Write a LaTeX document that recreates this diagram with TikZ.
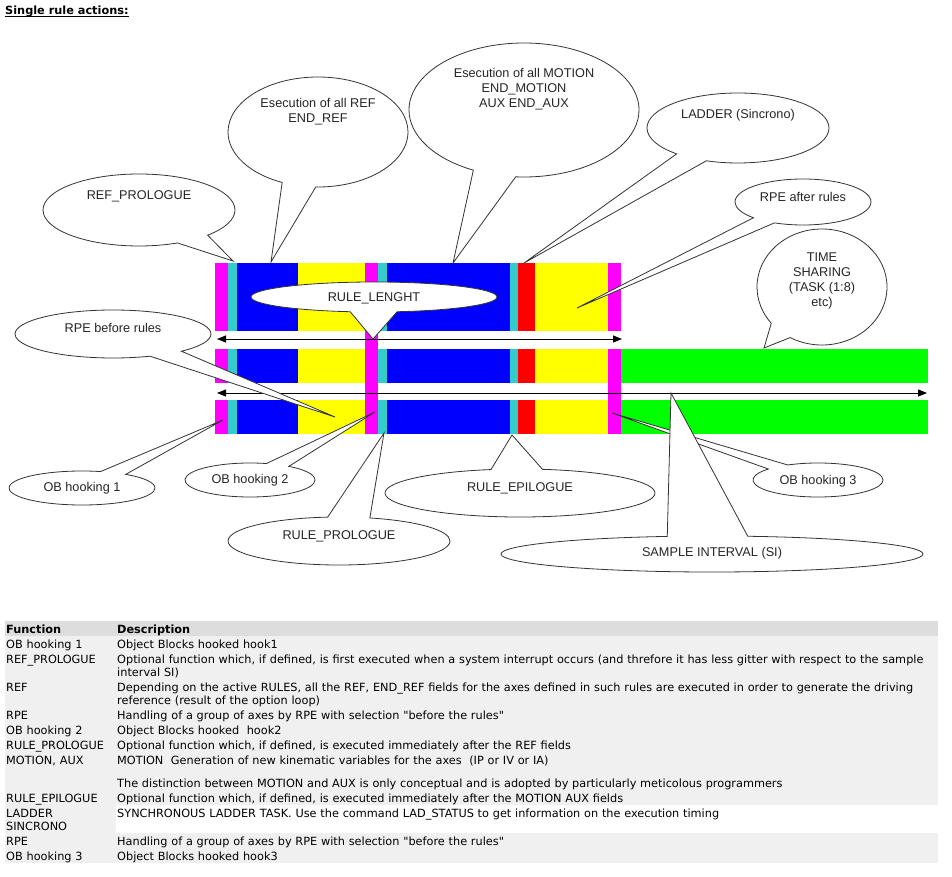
\documentclass[tikz,border=0pt]{standalone}
\usepackage{fontspec}
\setmainfont{Liberation Sans}
\newfontfamily\tabfont{DejaVu Sans}
\usetikzlibrary{shapes.callouts, arrows.meta}

\definecolor{mag}{HTML}{FF00FF}
\definecolor{cyn}{HTML}{33CCCC}
\definecolor{blu}{HTML}{0000FF}
\definecolor{yel}{HTML}{FFFF00}
\definecolor{rd}{HTML}{FF0000}
\definecolor{grn}{HTML}{00FF00}
\definecolor{rowgray}{HTML}{F0F0F0}
\definecolor{headgray}{HTML}{DDDDDD}

\tikzset{
  bubble/.style={ellipse callout, draw=black!80, line width=0.8pt, fill=white,
    callout pointer arc=22, inner sep=0pt, text height=9.1pt, text depth=#1,
    align=center, text=black!85, font=\fontsize{12.7}{15}\selectfont},
  bubble/.default={0pt},
  timeline/.style={{Triangle[length=9pt,width=7pt]}-{Triangle[length=9pt,width=7pt]}, line width=0.8pt},
  cell/.style={anchor=base west, inner sep=0pt, align=left, text width=815pt,
    font=\tabfont\fontsize{11.3}{13.5}\selectfont}
}

\begin{document}
\begin{tikzpicture}[x=1pt, y=-1pt]
            \useasboundingbox (0,0) rectangle (952,877);

            %Title
            \node[cell, text width=, font=\tabfont\bfseries\fontsize{11.3}{13.5}\selectfont] (title) at (5,15) {Single rule actions:};
            \draw[line width=1pt] ([yshift=-1.5pt]title.base west) -- ([yshift=-1.5pt]title.base east);

            %Bars
            \foreach \ya/\yb in {263/331, 349/383, 400/434}{
              \fill[mag] (215,\ya) rectangle (228,\yb);
              \fill[cyn] (228,\ya) rectangle (237,\yb);
              \fill[blu] (237,\ya) rectangle (298,\yb);
              \fill[yel] (298,\ya) rectangle (365,\yb);
              \fill[cyn] (378,\ya) rectangle (387,\yb);
              \fill[blu] (387,\ya) rectangle (510,\yb);
              \fill[cyn] (510,\ya) rectangle (518,\yb);
              \fill[rd] (518,\ya) rectangle (535,\yb);
              \fill[yel] (535,\ya) rectangle (608,\yb);
            }
            \fill[mag] (365,263) rectangle (378,434);
            \fill[mag] (608,263) rectangle (621,331);
            \fill[mag] (608,349) rectangle (621,434);
            \fill[grn] (621,349) rectangle (928,383);
            \fill[grn] (621,400) rectangle (928,434);

            %Arrows
            \coordinate (a1l) at (217,339);
            \coordinate (a1r) at (622,339);
            \coordinate (a2l) at (217,393);
            \coordinate (a2r) at (927,393);
            \draw[timeline] (a1l) -- (a1r);
            \draw[timeline] (a2l) -- (a2r);

            %Pointer tips
            \coordinate (tRefPro) at (233,261);
            \coordinate (tRefAll) at (271,262);
            \coordinate (tMotion) at (453,263);
            \coordinate (tLadder) at (524,263);
            \coordinate (tRpeAfter) at (577,308);
            \coordinate (tTime) at (764,348);
            \coordinate (tRuleLen) at (373,339);
            \coordinate (tRpeBefore) at (335,417);
            \coordinate (tOb1) at (223,420);
            \coordinate (tOb2) at (375,412);
            \coordinate (tRulePro) at (384,433);
            \coordinate (tRuleEpi) at (512,435);
            \coordinate (tOb3) at (612,413);
            \coordinate (tSample) at (671,393);

            %Callouts
            \node[bubble=30pt, minimum width=192, minimum height=72, callout absolute pointer={(tRefPro)}] (refpro) at (139,210) {REF\_PROLOGUE};
            \node[bubble=28pt, minimum width=180, minimum height=110, callout absolute pointer={(tRefAll)}] (refall) at (318,132) {Esecution of all REF\\END\_REF};
            \node[bubble=14pt, minimum width=230, minimum height=134, callout absolute pointer={(tMotion)}] (motionall) at (524,110) {Esecution of all MOTION\\END\_MOTION\\AUX END\_AUX};
            \node[bubble=28pt, minimum width=182, minimum height=70, callout absolute pointer={(tLadder)}] (ladder) at (738,128) {LADDER (Sincrono)};
            \node[bubble=10pt, minimum width=136, minimum height=46, callout absolute pointer={(tRpeAfter)}] (rpeafter) at (803,202) {RPE after rules};
            \node[bubble, text height=39.1pt, minimum width=130, minimum height=116, callout absolute pointer={(tTime)}] (timeshare) at (822,287) {TIME\\SHARING\\(TASK (1:8)\\etc)};
            \node[bubble, minimum width=246, minimum height=30, callout absolute pointer={(tRuleLen)}] (rulelen) at (374,297) {RULE\_LENGHT};
            \node[bubble=12pt, minimum width=196, minimum height=48, callout absolute pointer={(tRpeBefore)}] (rpebefore) at (113,334) {RPE before rules};
            \node[bubble=2pt, minimum width=146, minimum height=34, callout absolute pointer={(tOb1)}] (obhook1) at (82,488) {OB hooking 1};
            \node[bubble=2pt, minimum width=130, minimum height=34, callout absolute pointer={(tOb2)}] (obhook2) at (250,480) {OB hooking 2};
            \node[bubble=12pt, minimum width=222, minimum height=48, callout absolute pointer={(tRulePro)}] (rulepro) at (339,541) {RULE\_PROLOGUE};
            \node[bubble=12pt, minimum width=270, minimum height=48, callout absolute pointer={(tRuleEpi)}] (ruleepi) at (520,493) {RULE\_EPILOGUE};
            \node[bubble, minimum width=130, minimum height=34, callout absolute pointer={(tOb3)}] (obhook3) at (818,480) {OB hooking 3};
            \node[bubble=4pt, minimum width=422, minimum height=36, callout absolute pointer={(tSample)}] (sampleint) at (712,554) {SAMPLE INTERVAL (SI)};

            %Table
            \fill[rowgray] (5,621) rectangle (938,863);
            \fill[headgray] (5,621) rectangle (938,636);
            \fill[white] (116,805) rectangle (938,833);

            \node[cell, text width=, font=\tabfont\bfseries\fontsize{11.3}{13.5}\selectfont] (fhead) at (6,633) {Function};
            \node[cell, text width=, font=\tabfont\bfseries\fontsize{11.3}{13.5}\selectfont] (dhead) at (117,633) {Description};

            \node[cell, text width=105pt] (f1) at (6,648) {OB hooking 1};
            \node[cell] (d1) at (117,648) {Object Blocks hooked hook1};
            \node[cell, text width=105pt] (f2) at (6,663) {REF\_PROLOGUE};
            \node[cell] (d2) at (117,663) {Optional function which, if defined, is first executed when a system interrupt occurs (and threfore it has less gitter with respect to the sample\\interval SI)};
            \node[cell, text width=105pt] (f3) at (6,691) {REF};
            \node[cell] (d3) at (117,691) {Depending on the active RULES, all the REF, END\_REF fields for the axes defined in such rules are executed in order to generate the driving\\reference (result of the option loop)};
            \node[cell, text width=105pt] (f4) at (6,719) {RPE};
            \node[cell] (d4) at (117,719) {Handling of a group of axes by RPE with selection "before the rules"};
            \node[cell, text width=105pt] (f5) at (6,734) {OB hooking 2};
            \node[cell] (d5) at (117,734) {Object Blocks hooked~ hook2};
            \node[cell, text width=105pt] (f6) at (6,749) {RULE\_PROLOGUE};
            \node[cell] (d6) at (117,749) {Optional function which, if defined, is executed immediately after the REF fields};
            \node[cell, text width=105pt] (f7) at (6,764) {MOTION, AUX};
            \node[cell] (d7) at (117,764) {MOTION~ Generation of new kinematic variables for the axes~ (IP or IV or IA)\\[9.5pt]The distinction between MOTION and AUX is only conceptual and is adopted by particularly meticolous programmers};
            \node[cell, text width=105pt] (f8) at (6,802) {RULE\_EPILOGUE};
            \node[cell] (d8) at (117,802) {Optional function which, if defined, is executed immediately after the MOTION AUX fields};
            \node[cell, text width=105pt] (f9) at (6,817) {LADDER\\SINCRONO};
            \node[cell] (d9) at (117,817) {SYNCHRONOUS LADDER TASK. Use the command LAD\_STATUS to get information on the execution timing};
            \node[cell, text width=105pt] (f10) at (6,845) {RPE};
            \node[cell] (d10) at (117,845) {Handling of a group of axes by RPE with selection "before the rules"};
            \node[cell, text width=105pt] (f11) at (6,860) {OB hooking 3};
            \node[cell] (d11) at (117,860) {Object Blocks hooked hook3};
        \end{tikzpicture}
\end{document}
